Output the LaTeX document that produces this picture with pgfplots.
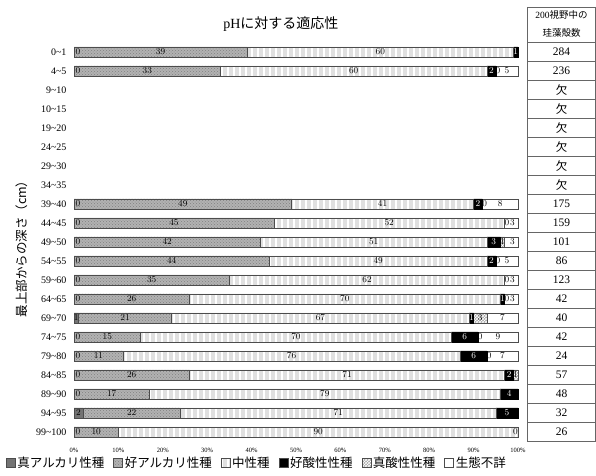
\documentclass[border=0pt]{standalone}
\usepackage{fontspec}
\setmainfont{Liberation Serif}
\newfontfamily\jp{Noto Sans CJK JP}
\usepackage{pgfplots}
\pgfplotsset{compat=1.18}
\usepackage{pgfplotstable}
\usetikzlibrary{patterns,patterns.meta}

\pgfplotstableread{
y a b c d e f
0 0 39 60 1 0 0
1 0 33 60 2 0 5
8 0 49 41 2 0 8
9 0 45 52 0 0 3
10 0 42 51 3 1 3
11 0 44 49 2 0 5
12 0 35 62 0 0 3
13 0 26 70 1 0 3
14 1 21 67 1 3 7
15 0 15 70 6 0 9
16 0 11 76 6 0 7
17 0 26 71 2 1 0
18 0 17 79 4 0 0
19 2 22 71 5 0 0
20 0 10 90 0 0 0
}\datatable
% label positions: middle of each segment
\pgfplotstablecreatecol[expr={\thisrow{a}/2+(\thisrow{a}==0)*0.9}]{ma}\datatable
\pgfplotstablecreatecol[expr={\thisrow{a}+\thisrow{b}/2}]{mb}\datatable
\pgfplotstablecreatecol[expr={\thisrow{a}+\thisrow{b}+\thisrow{c}/2}]{mc}\datatable
\pgfplotstablecreatecol[expr={\thisrow{a}+\thisrow{b}+\thisrow{c}+\thisrow{d}/2}]{md}\datatable
\pgfplotstablecreatecol[expr={\thisrow{a}+\thisrow{b}+\thisrow{c}+\thisrow{d}+\thisrow{e}/2+(\thisrow{e}==0)*0.5}]{me}\datatable
\pgfplotstablecreatecol[expr={\thisrow{a}+\thisrow{b}+\thisrow{c}+\thisrow{d}+\thisrow{e}+\thisrow{f}/2-(\thisrow{f}==0)*0.6+(\thisrow{f}==3)*0.25}]{mf}\datatable

\pgfplotsset{
  lab/.style={draw=none, mark=none,
    nodes near coords={\pgfmathprintnumber[fixed,precision=0]{\pgfplotspointmeta}},
    point meta=\thisrow{#1},
    every node near coord/.append style={anchor=center, inner sep=0.5pt,
      font=\fontsize{9}{10}\selectfont},
  },
  myleg/.style={legend image code/.code={\draw[##1, draw=black!70, line width=0.4pt] (0pt,-4pt) rectangle (9pt,5pt);}},
  frame/.style={at={(74pt,33.5pt)}, anchor=south west,
    scale only axis, width=444pt, height=399pt,
    xmin=0, xmax=100, ymin=-0.5, ymax=20.5, y dir=reverse, clip=false},
}

\begin{document}
\begin{tikzpicture}
\useasboundingbox (0pt,0pt) rectangle (596pt,475pt);
\begin{axis}[
  frame,
  xbar stacked, bar width=10.5pt,
  axis line style={draw=none}, tick style={draw=none},
  xtick={0,10,...,100},
  xticklabel={\pgfmathprintnumber{\tick}\%},
  /pgf/number format/assume math mode=true,
  xticklabel style={font=\fontsize{6.5}{7}\selectfont, yshift=-3pt},
  ytick={0,...,20},
  yticklabels={0\textasciitilde1,4\textasciitilde5,9\textasciitilde10,10\textasciitilde15,19\textasciitilde20,24\textasciitilde25,29\textasciitilde30,34\textasciitilde35,39\textasciitilde40,44\textasciitilde45,49\textasciitilde50,54\textasciitilde55,59\textasciitilde60,64\textasciitilde65,69\textasciitilde70,74\textasciitilde75,79\textasciitilde80,84\textasciitilde85,89\textasciitilde90,94\textasciitilde95,99\textasciitilde100},
  yticklabel style={font=\fontsize{10}{11}\selectfont, xshift=-4pt},
  ylabel={\jp 最上部からの深さ（cm）},
  ylabel style={at={(axis description cs:-0.117,0.49)}, anchor=center, font=\fontsize{12.5}{13}\selectfont},
  title={pH{\jp に対する適応性}},
  title style={at={(axis description cs:0.466,1.031)}, anchor=center, font=\fontsize{14}{15}\selectfont},
  legend style={at={(axis description cs:0.412,-0.054)}, anchor=center, draw=none, fill=none,
    legend columns=6, font=\jp\fontsize{12.5}{13}\selectfont,
    /tikz/every even column/.append style={column sep=7pt}},
  legend cell align=left,
]
\addplot[myleg, fill=black!55, draw=black!70, line width=0.4pt] table[x=a, y=y] {\datatable};
\addlegendentry{真アルカリ性種}
\addplot[myleg, fill=black!30, draw=black!70, line width=0.4pt,
  postaction={pattern=crosshatch dots, pattern color=black!50}] table[x=b, y=y] {\datatable};
\addlegendentry{好アルカリ性種}
\addplot[myleg, fill=black!12, draw=black!70, line width=0.4pt,
  postaction={pattern={Lines[angle=90,distance=6pt,line width=1.8pt]}, pattern color=white}] table[x=c, y=y] {\datatable};
\addlegendentry{中性種}
\addplot[myleg, fill=black, draw=black, line width=0.4pt] table[x=d, y=y] {\datatable};
\addlegendentry{好酸性性種}
\addplot[myleg, fill=black!35, draw=black!70, line width=0.4pt,
  postaction={pattern=crosshatch, pattern color=white}] table[x=e, y=y] {\datatable};
\addlegendentry{真酸性性種}
\addplot[myleg, fill=white, draw=black!70, line width=0.4pt] table[x=f, y=y] {\datatable};
\addlegendentry{生態不詳}
\end{axis}
\begin{axis}[frame, hide axis, unbounded coords=discard]
\addplot[lab=a] table[x=ma, y=y] {\datatable};
\addplot[lab=b] table[x=mb, y=y] {\datatable};
\addplot[lab=c] table[x=mc, y=y] {\datatable};
\addplot[lab=d, every node near coord/.append style={text=white},
  x filter/.expression={\thisrow{d}==0 ? nan : x}] table[x=md, y=y] {\datatable};
\addplot[lab=e,
  x filter/.expression={(\thisrow{e}==0 && \thisrow{f}==0) ? nan : x}] table[x=me, y=y] {\datatable};
\addplot[lab=f,
  x filter/.expression={(\thisrow{f}==0 && (\thisrow{d}+\thisrow{e})>0) ? nan : x}] table[x=mf, y=y] {\datatable};
\end{axis}
% table on the right
\draw[black!60, line width=0.9pt] (527pt,468pt) -- (527pt,33.5pt);
\draw[black!60, line width=0.9pt] (595.5pt,468pt) -- (595.5pt,33.5pt);
\draw[black!60, line width=0.9pt] (527pt,468pt) -- (596pt,468pt);
\foreach \k in {0,...,21} {
  \draw[black!60, line width=0.9pt] (527pt,{432.5pt-19pt*\k}) -- (596pt,{432.5pt-19pt*\k});
}
\node[font=\fontsize{9.5}{10}\selectfont, inner sep=0pt] at (561.5pt,460pt) {200{\jp 視野中の}};
\node[font=\jp\fontsize{9.5}{10}\selectfont, inner sep=0pt] at (561.5pt,442pt) {珪藻殻数};
\foreach \v [count=\i from 0] in {284,236,{\jp 欠},{\jp 欠},{\jp 欠},{\jp 欠},{\jp 欠},{\jp 欠},175,159,101,86,123,42,40,42,24,57,48,32,26} {
  \node[font=\fontsize{11.5}{12}\selectfont, inner sep=0pt] at (561.5pt,{423pt-19pt*\i}) {\v};
}
\end{tikzpicture}
\end{document}
